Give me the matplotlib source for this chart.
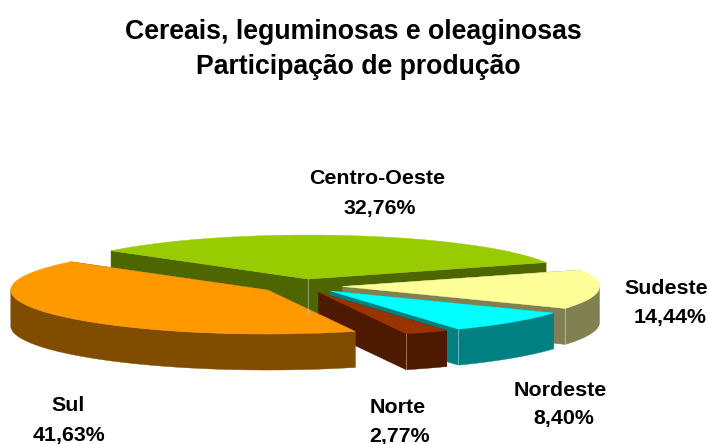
import numpy as np
import matplotlib
matplotlib.use("Agg")
import matplotlib.pyplot as plt

plt.rcParams['font.family'] = ['Liberation Sans', 'DejaVu Sans']

regions = ['Centro-Oeste', 'Sudeste', 'Nordeste', 'Norte', 'Sul']
shares = [32.76, 14.44, 8.40, 2.77, 41.63]
top_colors = ['#99CC00', '#FFFF99', '#00FFFF', '#993300', '#FF9900']
side_colors = ['#4D6600', '#808050', '#008080', '#4D1A00', '#804D00']
title_lines = ['Cereais, leguminosas e oleaginosas', 'Participação de produção']
title_pos = [(353, 32), (358, 67)]

# label centres, pixels of the image
name_pos = [(377, 178), (666, 288), (560, 390), (398, 407), (68, 405)]
value_pos = [(380, 208), (670, 317), (564, 418), (400, 436), (69, 435)]

# pie geometry, pixels
cx, cy = 301.5, 286
rx, ry = 257, 44
depth = 36
explode = 0.16
start = 140.0


def rim(c, t):
    return c[0] + rx*np.cos(t), c[1] - ry*np.sin(t)


fig = plt.figure(figsize=(7.09, 4.44), dpi=100)
ax = fig.add_axes([0, 0, 1, 1])
ax.set_xlim(0, 709)
ax.set_ylim(444, 0)
ax.axis('off')

a = start
for share, top, side in zip(shares, top_colors, side_colors):
    a2 = a - share*3.6
    mid = np.radians((a + a2)/2)
    c = (cx + explode*rx*np.cos(mid), cy - explode*ry*np.sin(mid))
    t = np.radians(np.linspace(a, a2, 200))
    x, y = rim(c, t)

    # cut faces
    for i in [0, -1]:
        ax.fill([c[0], x[i], x[i], c[0]], [c[1], y[i], y[i]+depth, c[1]+depth],
                color=side, lw=0.3)
    # outer wall, front half only
    front = np.sin(t) < 0
    if front.any():
        xf, yf = x[front], y[front]
        ax.fill(np.r_[xf, xf[::-1]], np.r_[yf, yf[::-1]+depth], color=side, lw=0.3)
        # thin light edge where wall meets the cut face
        if share < 40:
            ax.plot([xf[-1], xf[-1]], [yf[-1], yf[-1]+depth], color='white',
                    lw=0.6, alpha=0.45)
    elif share > 30:
        ax.plot([c[0], c[0]], [c[1], c[1]+depth], color='white', lw=0.6, alpha=0.45)
    # top
    ax.fill(np.r_[c[0], x], np.r_[c[1], y], color=top, lw=0.3)
    a = a2

for line, p in zip(title_lines, title_pos):
    ax.text(p[0], p[1], line, ha='center', va='center', fontsize=19.2, fontweight='bold')

for name, share, p1, p2 in zip(regions, shares, name_pos, value_pos):
    ax.text(p1[0], p1[1], name, ha='center', va='center', fontsize=15.4, fontweight='bold')
    ax.text(p2[0], p2[1], f'{share:.2f}%'.replace('.', ','), ha='center', va='center',
            fontsize=15.4, fontweight='bold')

plt.savefig('out.png', dpi=100)
